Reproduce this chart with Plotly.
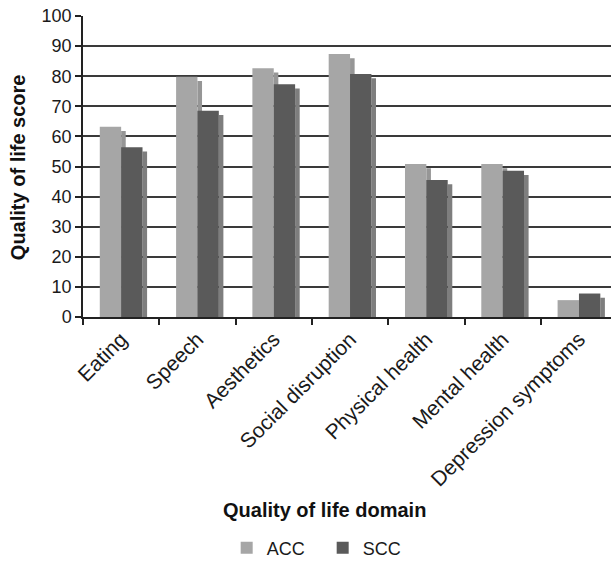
import plotly.graph_objects as go

categories = ["Eating", "Speech", "Aesthetics", "Social disruption",
              "Physical health", "Mental health", "Depression symptoms"]
acc = [63.2, 79.8, 82.6, 87.4, 50.8, 50.8, 5.6]
scc = [56.4, 68.5, 77.3, 80.7, 45.5, 48.6, 7.8]
y_ticks = [0, 10, 20, 30, 40, 50, 60, 70, 80, 90, 100]

ACC_COL = "#a6a6a6"
ACC_SH = "#969696"
SCC_COL = "#5a5a5a"
SCC_SH = "#7e7e7e"
BW = 0.28
SW = 0.06
DROP = 1.4
FONT = "Liberation Sans, Arial, sans-serif"

fig = go.Figure()
# shadows (drawn first)
fig.add_trace(go.Bar(x=categories, y=[max(v - DROP, 0) for v in acc], width=SW, offset=0,
                     marker=dict(color=ACC_SH, line=dict(width=0)), showlegend=False, hoverinfo="skip"))
fig.add_trace(go.Bar(x=categories, y=acc, width=BW, offset=-BW, name="ACC",
                     marker=dict(color=ACC_COL, line=dict(width=0))))
fig.add_trace(go.Bar(x=categories, y=[max(v - DROP, 0) for v in scc], width=SW, offset=BW,
                     marker=dict(color=SCC_SH, line=dict(width=0)), showlegend=False, hoverinfo="skip"))
fig.add_trace(go.Bar(x=categories, y=scc, width=BW, offset=0, name="SCC",
                     marker=dict(color=SCC_COL, line=dict(width=0))))

fig.update_layout(
    width=611, height=565,
    margin=dict(l=83, r=0, t=16, b=248),
    barmode="overlay",
    plot_bgcolor="white", paper_bgcolor="white",
    font=dict(family=FONT, size=16, color="#1a1a1a"),
    showlegend=True,
    legend=dict(orientation="h", xref="container", yref="container",
                x=0.371, y=0.03, xanchor="left", yanchor="middle",
                font=dict(size=18), itemwidth=30, traceorder="normal",
                entrywidth=51),
    xaxis=dict(type="category", range=[-0.5, 6.42], tickson="boundaries",
               ticks="outside", ticklen=6, tickcolor="#222", tickwidth=1.5,
               showline=True, linecolor="#222", linewidth=1.5,
               tickangle=-45, tickfont=dict(size=21), showgrid=False),
    yaxis=dict(range=[0, 100], tickvals=y_ticks, ticks="outside", ticklen=6,
               tickcolor="#222", tickwidth=1.5, showline=True, linecolor="#222",
               linewidth=1.5, showgrid=True, gridcolor="#3a3a3a", gridwidth=1.5,
               tickfont=dict(size=18), zeroline=False),
    annotations=[
        dict(text="<b>Quality of life domain</b>", xref="paper", yref="paper",
             x=0.458, y=-0.641, showarrow=False, font=dict(size=20, color="#111"),
             xanchor="center", yanchor="middle"),
        dict(text="<b>Quality of life score</b>", xref="paper", yref="paper",
             x=-0.123, y=0.498, showarrow=False, textangle=-90,
             font=dict(size=20, color="#111"), xanchor="center", yanchor="middle"),
    ],
)

fig.write_html("out.html")
